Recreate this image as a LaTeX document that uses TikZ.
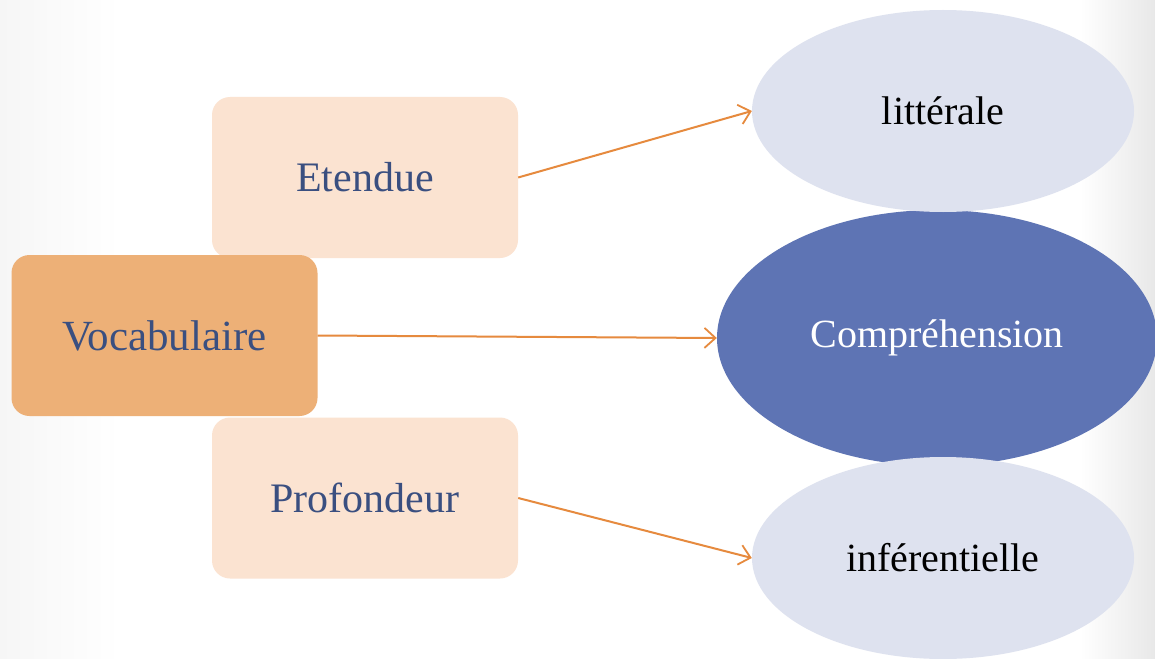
\documentclass[tikz,border=0pt]{standalone}
\usepackage{fontspec}
\setmainfont{Liberation Serif}
\usetikzlibrary{shapes.geometric,arrows.meta}
\definecolor{boxlight}{HTML}{FBE3D1}
\definecolor{boxdark}{HTML}{EDB077}
\definecolor{elllight}{HTML}{DEE2EF}
\definecolor{elldark}{HTML}{5E74B4}
\definecolor{txtblue}{HTML}{3A4F80}
\definecolor{arrowc}{HTML}{E68A3E}
\definecolor{bggray}{HTML}{E8E8E8}
\definecolor{bgleft}{HTML}{F6F6F6}
\begin{document}
\begin{tikzpicture}[x=1pt,y=1pt,
  sbox/.style={rectangle,rounded corners=18pt,minimum width=306pt,minimum height=161pt,inner sep=0pt,fill=boxlight,text=txtblue,font=\fontsize{42}{48}\selectfont},
  lell/.style={ellipse,minimum width=382pt,minimum height=202pt,inner sep=0pt,fill=elllight,text=black,font=\fontsize{40}{46}\selectfont},
  conn/.style={draw=arrowc,line width=2pt,-{Straight Barb[length=11pt,width=20pt,line width=1.8pt]}}]
\useasboundingbox (0,0) rectangle (1155,-658);
\clip (0,0) rectangle (1155,-658);
\fill[white] (0,0) rectangle (1155,-658);
\shade[left color=bgleft,right color=white] (0,0) rectangle (120,-658);
\shade[left color=white,right color=bggray] (1080,0) rectangle (1155,-658);
% boxes
\node[sbox] (etendue) at (365,-177.5) {Etendue};
\node[sbox] (prof) at (365,-498) {Profondeur};
\node[sbox,fill=boxdark,font=\fontsize{43}{48}\selectfont] (vocab) at (164.5,-335.5) {Vocabulaire};
% ellipses
\node[ellipse,minimum width=440pt,minimum height=256pt,inner sep=0pt,fill=elldark,text=white,font=\fontsize{40}{46}\selectfont] (comp) at (937,-338) {Compréhension};
\node[lell] (lit) at (943,-111) {littérale};
\node[lell] (inf) at (943,-558) {inférentielle};
% connectors
\draw[conn] (etendue.east) -- (lit.west);
\draw[conn] (vocab.east) -- (comp.west);
\draw[conn] (prof.east) -- (inf.west);
\end{tikzpicture}
\end{document}
